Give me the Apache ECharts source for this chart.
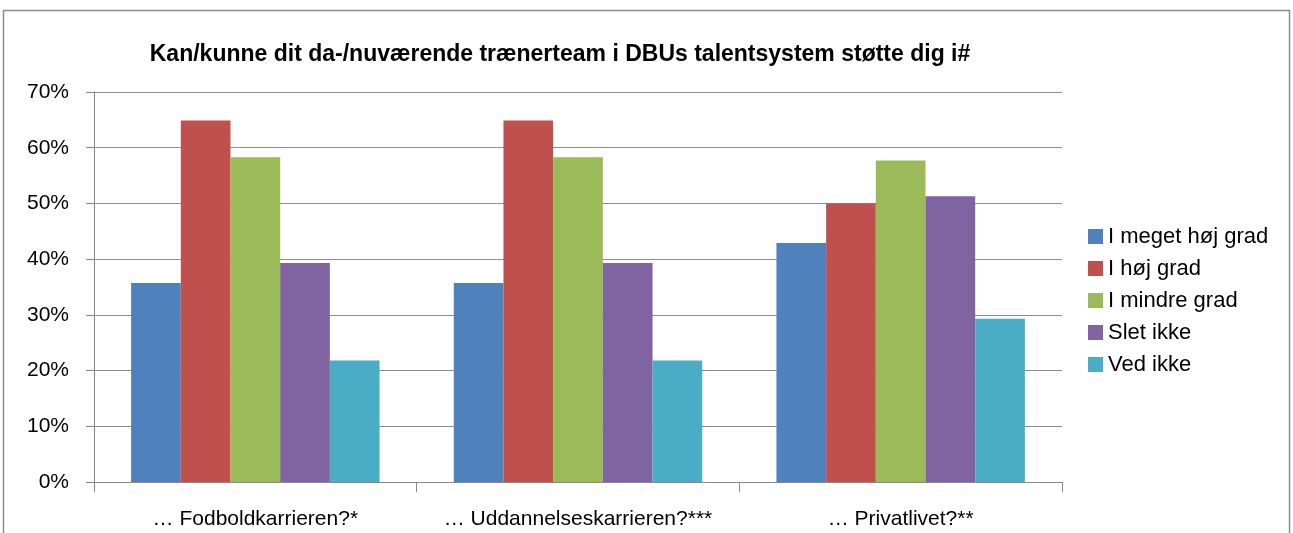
<!DOCTYPE html>
<html>
<head>
<meta charset="utf-8">
<script src="https://cdn.jsdelivr.net/npm/echarts@6/dist/echarts.min.js"></script>
<style>
  html, body { margin: 0; padding: 0; background: #fff; }
  #chart { width: 1293px; height: 533px; }
</style>
</head>
<body>
<div id="chart"></div>
<script>
// kategorier og svarmuligheder
var categories = ['… Fodboldkarrieren?*', '… Uddannelseskarrieren?***', '… Privatlivet?**'];
var seriesNames = ['I meget høj grad', 'I høj grad', 'I mindre grad', 'Slet ikke', 'Ved ikke'];
var colors = ['#4F81BD', '#C0504D', '#9BBB59', '#8064A2', '#4BACC6'];

// procent pr. svar (en liste pr. serie, rækkefølge som categories)
var megetHoj = [35.7, 35.7, 42.9];
var hoj = [64.9, 64.9, 50.0];
var mindre = [58.3, 58.3, 57.7];
var sletIkke = [39.3, 39.3, 51.3];
var vedIkke = [21.8, 21.8, 29.3];

var values = [megetHoj, hoj, mindre, sletIkke, vedIkke];
var font = 'Liberation Sans, Arial, sans-serif';

var myChart = echarts.init(document.getElementById('chart'));
var option = {
  animation: false,
  textStyle: { fontFamily: font },
  graphic: [{
    type: 'rect',
    shape: { x: 3.5, y: 10.5, width: 1286, height: 540 },
    style: { fill: 'none', stroke: '#8c8c8c', lineWidth: 1.5 }
  }],
  title: {
    text: 'Kan/kunne dit da-/nuværende trænerteam i DBUs talentsystem støtte dig i#',
    left: 555,
    textAlign: 'center',
    top: 38,
    textStyle: { fontSize: 23, fontWeight: 'bold', color: '#000', fontFamily: font }
  },
  legend: {
    orient: 'vertical',
    left: 1083,
    top: 220,
    itemWidth: 15,
    itemHeight: 15,
    itemGap: 9,
    icon: 'rect',
    textStyle: { fontSize: 22, lineHeight: 23, color: '#000', fontFamily: font },
    data: seriesNames
  },
  grid: { left: 94, right: 231, top: 92, bottom: 51 },
  xAxis: {
    type: 'category',
    data: categories,
    axisLine: { lineStyle: { color: '#888', width: 1 } },
    axisTick: { show: true, interval: 0, length: 10, lineStyle: { color: '#888' } },
    axisLabel: { interval: 0, fontSize: 21, color: '#000', margin: 27, fontFamily: font }
  },
  yAxis: {
    type: 'value',
    min: 0,
    max: 70,
    interval: 10,
    axisLine: { show: true, lineStyle: { color: '#888', width: 1 } },
    axisTick: { show: true, length: 8, inside: false, lineStyle: { color: '#888' } },
    splitLine: { lineStyle: { color: '#8c8c8c', width: 1 } },
    axisLabel: { fontSize: 21, color: '#000', margin: 25, fontFamily: font, formatter: '{value}%' }
  },
  series: seriesNames.map(function (name, i) {
    return {
      name: name,
      type: 'bar',
      data: values[i],
      barGap: '0%',
      barCategoryGap: '23%',
      itemStyle: { color: colors[i] }
    };
  })
};
myChart.setOption(option);
</script>
</body>
</html>
